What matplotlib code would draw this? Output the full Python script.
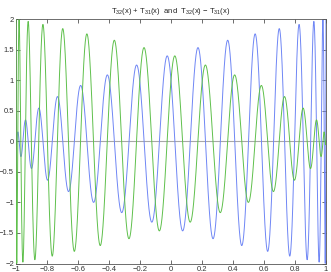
import numpy as np
import matplotlib
matplotlib.use("Agg")
import matplotlib.pyplot as plt
from numpy.polynomial import chebyshev as C

# chart content: sum and difference of two Chebyshev polynomials on [-1, 1]
degrees = [32, 31]
x_range = [-1, 1]
y_range = [-2, 2]
xticks = [-1, -0.8, -0.6, -0.4, -0.2, 0, 0.2, 0.4, 0.6, 0.8, 1]
xticklabels = ["\u22121", "\u22120.8", "\u22120.6", "\u22120.4", "\u22120.2", "0", "0.2", "0.4", "0.6", "0.8", "1"]
yticks = [-2, -1.5, -1, -0.5, 0, 0.5, 1, 1.5, 2]
yticklabels = ["\u22122", "\u22121.5", "\u22121", "\u22120.5", "0", "0.5", "1", "1.5", "2"]

x = np.linspace(x_range[0], x_range[1], 4001)
t_a = C.chebval(x, [0] * degrees[0] + [1])
t_b = C.chebval(x, [0] * degrees[1] + [1])
sum_curve = t_a + t_b
diff_curve = t_a - t_b

plt.rcParams['font.family'] = ['Liberation Sans', 'DejaVu Sans']
plt.rcParams['mathtext.fontset'] = 'custom'
plt.rcParams['mathtext.rm'] = 'Liberation Sans'

fig = plt.figure(figsize=(3.31, 2.72), dpi=100)
ax = fig.add_axes([16 / 331, 1 - 263.5 / 272, 310 / 331, 244.5 / 272])

ax.axhline(0, color="#a8a8a8", lw=0.8, zorder=1)
ax.plot(x, sum_curve, color="#6f86f5", lw=0.7, zorder=2)
ax.plot(x, diff_curve, color="#5fc04c", lw=0.7, zorder=3)

ax.set_xlim(x_range)
ax.set_ylim(y_range)
ax.set_xticks(xticks)
ax.set_xticklabels(xticklabels)
ax.set_yticks(yticks)
ax.set_yticklabels(yticklabels)
ax.tick_params(direction="in", length=3, width=0.5, labelsize=5.5, pad=1.5,
               top=True, right=True, colors="#333333")
for s in ax.spines.values():
    s.set_linewidth(0.6)
    s.set_color("#555555")

ax.set_title(r"T$_{32}$(x) + T$_{31}$(x)  and  T$_{32}$(x) $-$ T$_{31}$(x)",
             fontsize=5.5, pad=4, color="#222222")

fig.savefig("out.png", dpi=100)
